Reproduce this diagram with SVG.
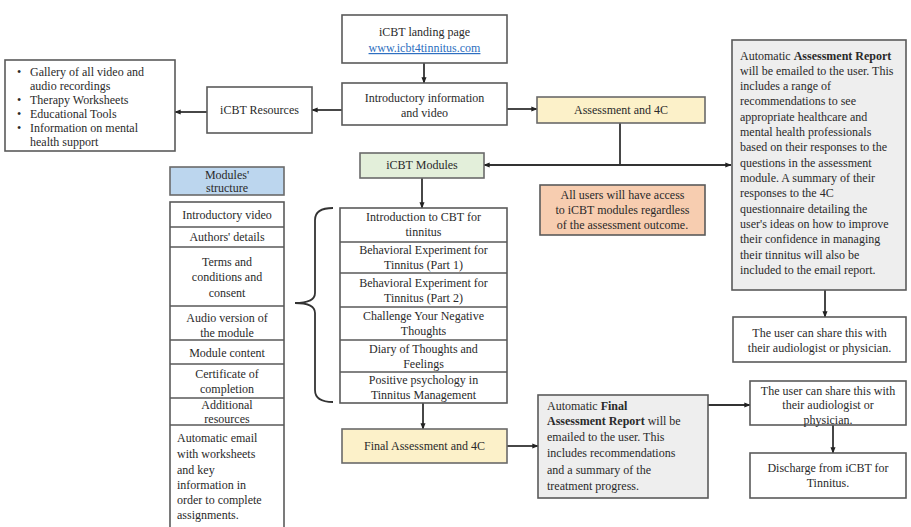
<svg xmlns="http://www.w3.org/2000/svg" width="911" height="527" viewBox="0 0 911 527">
  <style>
    text { font-family: "Liberation Serif", "Times New Roman", serif; font-size: 12px; fill: #2a2a2a; }
    .c { text-anchor: middle; }
    .box { fill: #ffffff; stroke: #5a5a5a; stroke-width: 1.6; }
    .grey { fill: #eeeeee; stroke: #5a5a5a; stroke-width: 1.6; }
    .yellow { fill: #fcf1c9; stroke: #6a6a6a; stroke-width: 1.6; }
    .green { fill: #e3efda; stroke: #6a6a6a; stroke-width: 1.6; }
    .orange { fill: #f7cdb0; stroke: #5a5a5a; stroke-width: 1.6; }
    .blue { fill: #bcd6ee; stroke: #6a6a6a; stroke-width: 1.6; }
    .row { fill: none; stroke: #5a5a5a; stroke-width: 1.4; }
    .link { fill: #2e6fc0; text-decoration: underline; }
    .conn { fill: none; stroke: #333333; stroke-width: 1.8; }
    .arr { marker-end: url(#head); }
  </style>
  <defs>
    <marker id="head" viewBox="0 0 10 10" refX="9" refY="5" markerWidth="3.5" markerHeight="3.5" orient="auto" markerUnits="strokeWidth">
      <path d="M0,1 L10,5 L0,9 z" fill="#222222"/>
    </marker>
  </defs>
  <rect width="911" height="527" fill="#ffffff"/>

  <!-- connectors -->
  <g id="connectors">
    <path class="conn arr" d="M424,63 V83"/>
    <path class="conn arr" d="M342,110 H312"/>
    <path class="conn arr" d="M207,112 H175"/>
    <path class="conn arr" d="M507,109 H537"/>
    <path class="conn" d="M620,123 V165"/>
    <path class="conn arr" d="M620,165 H731"/>
    <path class="conn arr" d="M620,165 H484"/>
    <path class="conn arr" d="M422,178 V208"/>
    <path class="conn arr" d="M423,403 V429"/>
    <path class="conn arr" d="M507,446 H538"/>
    <path class="conn arr" d="M825,290 V317"/>
    <path class="conn arr" d="M708,405 H750"/>
    <path class="conn arr" d="M833,425 V453"/>
    <!-- brace grouping the module list -->
    <path class="conn" stroke-width="1.5" d="M333,208 Q315,208 315,220 L315,293 Q315,303 295,303 Q315,303 315,313 L315,390 Q315,402 333,402"/>
  </g>

  <g id="resources-list">
    <rect class="box" x="5" y="60" width="170" height="91"/>
    <text x="17" y="76">•</text><text x="30" y="76">Gallery of all video and</text>
    <text x="30" y="90">audio recordings</text>
    <text x="17" y="104">•</text><text x="30" y="104">Therapy Worksheets</text>
    <text x="17" y="118">•</text><text x="30" y="118">Educational Tools</text>
    <text x="17" y="132">•</text><text x="30" y="132">Information on mental</text>
    <text x="30" y="146">health support</text>
  </g>

  <g id="icbt-resources">
    <rect class="box" x="207" y="87" width="105" height="46"/>
    <text class="c" x="259.5" y="114">iCBT Resources</text>
  </g>

  <g id="landing-page">
    <rect class="box" x="342" y="15" width="165" height="48"/>
    <text class="c" x="424.5" y="36">iCBT landing page</text>
    <text class="c link" x="424.5" y="52">www.icbt4tinnitus.com</text>
  </g>

  <g id="intro-info">
    <rect class="box" x="342" y="83" width="165" height="42"/>
    <text class="c" x="424.5" y="102">Introductory information</text>
    <text class="c" x="424.5" y="117">and video</text>
  </g>

  <g id="assessment">
    <rect class="yellow" x="537" y="97" width="168" height="26"/>
    <text class="c" x="621" y="114">Assessment and 4C</text>
  </g>

  <g id="icbt-modules">
    <rect class="green" x="360" y="153" width="124" height="25"/>
    <text class="c" x="422" y="169">iCBT Modules</text>
  </g>

  <g id="access-note">
    <rect class="orange" x="540" y="185" width="165" height="50"/>
    <text class="c" x="622.5" y="199">All users will have access</text>
    <text class="c" x="622.5" y="214">to iCBT modules regardless</text>
    <text class="c" x="622.5" y="229">of the assessment outcome.</text>
  </g>

  <g id="assessment-report">
    <rect class="grey" x="732" y="40" width="174" height="250"/>
    <text x="740" y="60">Automatic <tspan font-weight="bold">Assessment Report</tspan></text>
    <text x="740" y="75">will be emailed to the user. This</text>
    <text x="740" y="90">includes a range of</text>
    <text x="740" y="105">recommendations to see</text>
    <text x="740" y="121">appropriate healthcare and</text>
    <text x="740" y="136">mental health professionals</text>
    <text x="740" y="151">based on their responses to the</text>
    <text x="740" y="167">questions in the assessment</text>
    <text x="740" y="182">module. A summary of their</text>
    <text x="740" y="197">responses to the 4C</text>
    <text x="740" y="213">questionnaire detailing the</text>
    <text x="740" y="228">user's ideas on how to improve</text>
    <text x="740" y="243">their confidence in managing</text>
    <text x="740" y="259">their tinnitus will also be</text>
    <text x="740" y="274">included to the email report.</text>
  </g>

  <g id="share-1">
    <rect class="box" x="733" y="317" width="173" height="45"/>
    <text class="c" x="819.5" y="337">The user can share this with</text>
    <text class="c" x="819.5" y="352">their audiologist or physician.</text>
  </g>

  <g id="structure-header">
    <rect class="blue" x="170" y="167" width="114" height="28"/>
    <text class="c" x="227" y="179">Modules'</text>
    <text class="c" x="227" y="192">structure</text>
  </g>

  <g id="structure-list">
    <rect class="box" x="170" y="202" width="114" height="330"/>
    <path class="row" d="M170,227 H284 M170,247 H284 M170,306 H284 M170,340 H284 M170,364 H284 M170,398 H284 M170,425 H284"/>
    <text class="c" x="227" y="219">Introductory video</text>
    <text class="c" x="227" y="241">Authors' details</text>
    <text class="c" x="227" y="266">Terms and</text>
    <text class="c" x="227" y="281">conditions and</text>
    <text class="c" x="227" y="297">consent</text>
    <text class="c" x="227" y="322">Audio version of</text>
    <text class="c" x="227" y="337">the module</text>
    <text class="c" x="227" y="357">Module content</text>
    <text class="c" x="227" y="378">Certificate of</text>
    <text class="c" x="227" y="393">completion</text>
    <text class="c" x="227" y="409">Additional</text>
    <text class="c" x="227" y="423">resources</text>
    <text x="177" y="442">Automatic email</text>
    <text x="177" y="458">with worksheets</text>
    <text x="177" y="474">and key</text>
    <text x="177" y="489">information in</text>
    <text x="177" y="504">order to complete</text>
    <text x="177" y="519">assignments.</text>
  </g>

  <g id="module-list">
    <rect class="box" x="340" y="208" width="167" height="195"/>
    <path class="row" d="M340,242 H507 M340,273 H507 M340,307 H507 M340,340 H507 M340,372 H507"/>
    <text class="c" x="423.5" y="221">Introduction to CBT for</text>
    <text class="c" x="423.5" y="236">tinnitus</text>
    <text class="c" x="423.5" y="254">Behavioral Experiment for</text>
    <text class="c" x="423.5" y="269">Tinnitus (Part 1)</text>
    <text class="c" x="423.5" y="287">Behavioral Experiment for</text>
    <text class="c" x="423.5" y="302">Tinnitus (Part 2)</text>
    <text class="c" x="423.5" y="320">Challenge Your Negative</text>
    <text class="c" x="423.5" y="335">Thoughts</text>
    <text class="c" x="423.5" y="353">Diary of Thoughts and</text>
    <text class="c" x="423.5" y="368">Feelings</text>
    <text class="c" x="423.5" y="384">Positive psychology in</text>
    <text class="c" x="423.5" y="399">Tinnitus Management</text>
  </g>

  <g id="final-assessment">
    <rect class="yellow" x="342" y="429" width="165" height="34"/>
    <text class="c" x="424.5" y="450">Final Assessment and 4C</text>
  </g>

  <g id="final-report">
    <rect class="grey" x="538" y="395" width="170" height="103"/>
    <text x="547" y="410">Automatic <tspan font-weight="bold">Final</tspan></text>
    <text x="547" y="425"><tspan font-weight="bold">Assessment Report</tspan> will be</text>
    <text x="547" y="441">emailed to the user. This</text>
    <text x="547" y="457">includes recommendations</text>
    <text x="547" y="474">and a summary of the</text>
    <text x="547" y="490">treatment progress.</text>
  </g>

  <g id="share-2">
    <rect class="box" x="750" y="381" width="156" height="44"/>
    <text class="c" x="828" y="395">The user can share this with</text>
    <text class="c" x="828" y="409">their audiologist or</text>
    <text class="c" x="828" y="424">physician.</text>
  </g>

  <g id="discharge">
    <rect class="box" x="750" y="453" width="156" height="45"/>
    <text class="c" x="828" y="472">Discharge from iCBT for</text>
    <text class="c" x="828" y="487">Tinnitus.</text>
  </g>
</svg>
